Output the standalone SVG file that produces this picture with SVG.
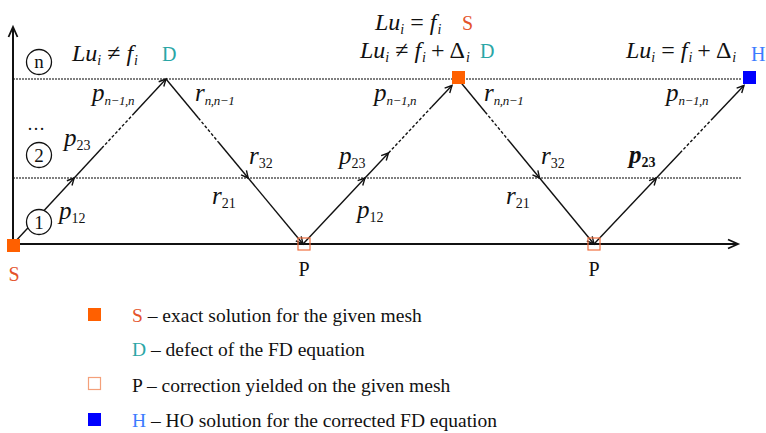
<svg xmlns="http://www.w3.org/2000/svg" width="766" height="433" viewBox="0 0 766 433">
<style>
.m{font-family:'Liberation Serif','Times New Roman','DejaVu Serif',serif;font-style:italic;font-size:24px;fill:#111}
.e{font-family:'Liberation Serif','Times New Roman','DejaVu Serif',serif;font-style:italic;font-size:25px;fill:#111}
.sub{font-size:14px}
.sn{font-size:13px;letter-spacing:-0.4px}
.up{font-style:normal}
.t{font-family:'Liberation Serif','Times New Roman','DejaVu Serif',serif;font-size:20px;fill:#111}
.lg{font-family:'Liberation Serif','Times New Roman','DejaVu Serif',serif;font-size:19.5px;fill:#111}
.cS{fill:#e4532a}
.cD{fill:#2aa6a6}
.cH{fill:#3b7cff}
.leg{fill:none;stroke:#111;stroke-width:1.4}
.dash{fill:none;stroke:#111;stroke-width:1.4;stroke-dasharray:3 2}
.grid{fill:none;stroke:#555;stroke-width:1.6;stroke-dasharray:2 1}
.axis{fill:none;stroke:#111;stroke-width:2}
.circ{fill:#fff;stroke:#111;stroke-width:1.3}
</style>
<defs>
<marker id="ah" markerWidth="10" markerHeight="10" refX="8" refY="5" orient="auto" markerUnits="userSpaceOnUse">
<path d="M1,1.5 L8,5 L1,8.5" fill="none" stroke="#111" stroke-width="1.4"/>
</marker>
<marker id="ax" markerWidth="14" markerHeight="12" refX="11" refY="6" orient="auto" markerUnits="userSpaceOnUse">
<path d="M1,1.5 L11,6 L1,10.5" fill="none" stroke="#111" stroke-width="1.8"/>
</marker>
</defs>

<g id="grid">
<line class="grid" x1="13" y1="79" x2="742" y2="79"/>
<line class="grid" x1="13" y1="178" x2="742" y2="178"/>
</g>

<g id="axes">
<line class="axis" x1="13" y1="250" x2="13" y2="27" marker-end="url(#ax)"/>
<line class="axis" x1="13" y1="244" x2="738" y2="244" marker-end="url(#ax)"/>
</g>

<g id="connectors">
<line class="leg" x1="13" y1="244" x2="74.2" y2="178" marker-end="url(#ah)"/>
<line class="leg" x1="74.2" y1="178" x2="101.7" y2="148.3"/>
<line class="dash" x1="101.7" y1="148.3" x2="132.3" y2="115.3"/>
<line class="leg" x1="132.3" y1="115.3" x2="166" y2="79" marker-end="url(#ah)"/>
<line class="leg" x1="166" y1="79" x2="198.4" y2="118"/>
<line class="dash" x1="198.4" y1="118" x2="218.3" y2="142"/>
<line class="leg" x1="218.3" y1="142" x2="248.2" y2="178" marker-end="url(#ah)"/>
<line class="leg" x1="248.2" y1="178" x2="303" y2="244" marker-end="url(#ah)"/>
<line class="leg" x1="303" y1="244" x2="365" y2="178" marker-end="url(#ah)"/>
<line class="leg" x1="365" y1="178" x2="388.5" y2="153" marker-end="url(#ah)"/>
<line class="dash" x1="388.5" y1="153" x2="431.6" y2="107"/>
<line class="leg" x1="431.6" y1="107" x2="452" y2="85.5" marker-end="url(#ah)"/>
<line class="leg" x1="458" y1="79" x2="485.2" y2="112"/>
<line class="dash" x1="485.2" y1="112" x2="508.3" y2="140"/>
<line class="leg" x1="508.3" y1="140" x2="539.6" y2="178" marker-end="url(#ah)"/>
<line class="leg" x1="539.6" y1="178" x2="594" y2="244" marker-end="url(#ah)"/>
<line class="leg" x1="594" y1="244" x2="656.4" y2="178" marker-end="url(#ah)"/>
<line class="leg" x1="656.4" y1="178" x2="680" y2="153"/>
<line class="dash" x1="680" y1="153" x2="711.2" y2="120"/>
<line class="leg" x1="711.2" y1="120" x2="744" y2="85.5" marker-end="url(#ah)"/>
</g>

<g id="levels">
<circle class="circ" cx="39" cy="62" r="12.5"/>
<text class="t" x="39" y="68" text-anchor="middle" style="font-size:19px">n</text>
<text class="t" x="36" y="130" text-anchor="middle" style="font-size:18px">…</text>
<circle class="circ" cx="39" cy="155" r="12.5"/>
<text class="t" x="39" y="161.5" text-anchor="middle" style="font-size:19px">2</text>
<circle class="circ" cx="39" cy="222" r="12.5"/>
<text class="t" x="39" y="228.5" text-anchor="middle" style="font-size:19px">1</text>
</g>

<g id="node-S">
<rect x="7" y="239" width="13" height="13" fill="#ff6000"/>
<text class="t cS" x="14" y="281" text-anchor="middle">S</text>
</g>
<g id="node-D">
<text class="t cD" x="162" y="61">D</text>
<text class="m" x="72" y="61">Lu<tspan class="sub" dy="4">i</tspan><tspan class="up" dy="-4" dx="6">≠</tspan><tspan dx="6">f</tspan><tspan class="sub" dy="4" dx="1">i</tspan></text>
</g>
<g id="node-P1">
<rect x="298" y="238" width="12" height="12" fill="none" stroke="#f07040" stroke-width="1.2"/>
<text class="t" x="304" y="276" text-anchor="middle">P</text>
</g>
<g id="node-S2">
<rect x="452" y="71" width="13" height="13" fill="#ff6000"/>
<text class="m" x="375" y="30">Lu<tspan class="sub" dy="4">i</tspan><tspan class="up" dy="-4" dx="6">=</tspan><tspan dx="6">f</tspan><tspan class="sub" dy="4" dx="1">i</tspan></text>
<text class="t cS" x="462" y="30">S</text>
<text class="m" x="360" y="58">Lu<tspan class="sub" dy="4">i</tspan><tspan class="up" dy="-4" dx="6">≠</tspan><tspan dx="6">f</tspan><tspan class="sub" dy="4" dx="1">i</tspan><tspan class="up" dy="-4" dx="5">+</tspan><tspan class="up" dx="5">Δ</tspan><tspan class="sub" dy="4" dx="1">i</tspan></text>
<text class="t cD" x="480" y="58">D</text>
</g>
<g id="node-P2">
<rect x="588" y="238" width="12" height="12" fill="none" stroke="#f07040" stroke-width="1.2"/>
<text class="t" x="594" y="276" text-anchor="middle">P</text>
</g>
<g id="node-H">
<rect x="743" y="71" width="13" height="13" fill="#0000ff"/>
<text class="m" x="626" y="58">Lu<tspan class="sub" dy="4">i</tspan><tspan class="up" dy="-4" dx="6">=</tspan><tspan dx="6">f</tspan><tspan class="sub" dy="4" dx="1">i</tspan><tspan class="up" dy="-4" dx="5">+</tspan><tspan class="up" dx="5">Δ</tspan><tspan class="sub" dy="4" dx="1">i</tspan></text>
<text class="t cH" x="751" y="61">H</text>
</g>

<g id="edge-labels">
<text class="e" x="92" y="101">p<tspan class="sn" dy="4">n−1,n</tspan></text>
<text class="e" x="195" y="101">r<tspan class="sn" dy="4">n,n−1</tspan></text>
<text class="e" x="64" y="146">p<tspan class="sub up" dy="4">23</tspan></text>
<text class="e" x="59" y="219">p<tspan class="sub up" dy="4">12</tspan></text>
<text class="e" x="249" y="164">r<tspan class="sub up" dy="4">32</tspan></text>
<text class="e" x="212" y="204">r<tspan class="sub up" dy="4">21</tspan></text>
<text class="e" x="374" y="101">p<tspan class="sn" dy="4">n−1,n</tspan></text>
<text class="e" x="484" y="101">r<tspan class="sn" dy="4">n,n−1</tspan></text>
<text class="e" x="339" y="164">p<tspan class="sub up" dy="4">23</tspan></text>
<text class="e" x="357" y="218">p<tspan class="sub up" dy="4">12</tspan></text>
<text class="e" x="541" y="164">r<tspan class="sub up" dy="4">32</tspan></text>
<text class="e" x="506" y="204">r<tspan class="sub up" dy="4">21</tspan></text>
<text class="e" x="666" y="101">p<tspan class="sn" dy="4">n−1,n</tspan></text>
<text class="e" x="629" y="163" font-weight="bold">p<tspan class="sub up" dy="4">23</tspan></text>
</g>

<g id="legend">
<rect x="88" y="308" width="13" height="13" fill="#ff6000"/>
<text class="lg" x="132" y="322"><tspan class="cS">S</tspan> – exact solution for the given mesh</text>
<text class="lg" x="132" y="356"><tspan class="cD">D</tspan> – defect of the FD equation</text>
<rect x="88.5" y="377.5" width="12" height="12" fill="none" stroke="#f4a07a" stroke-width="1.2"/>
<text class="lg" x="132" y="392">P – correction yielded on the given mesh</text>
<rect x="88" y="413" width="13" height="13" fill="#0000ff"/>
<text class="lg" x="132" y="427"><tspan class="cH">H</tspan> – HO solution for the corrected FD equation</text>
</g>
</svg>
